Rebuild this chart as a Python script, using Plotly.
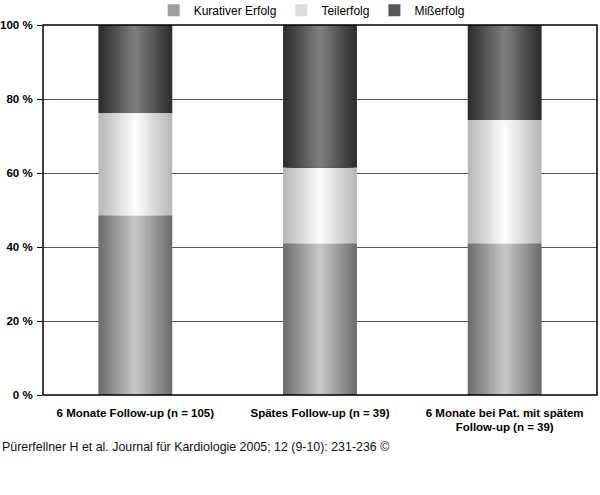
import plotly.graph_objects as go

# Anteile in Prozent je Gruppe
kategorien = ["6 Monate Follow-up (n = 105)", "Spätes Follow-up (n = 39)",
              "6 Monate bei Pat. mit spätem<br>Follow-up (n = 39)"]
kurativ = [48.6, 41.0, 41.0]
teilerfolg = [27.6, 20.5, 33.3]
misserfolg = [23.8, 38.5, 25.7]
y_ticks = [0, 20, 40, 60, 80, 100]
y_labels = ["0 %", "20 %", "40 %", "60 %", "80 %", "100 %"]

serien = [
    ("Kurativer Erfolg", kurativ, (110, 110, 110), (198, 198, 198)),
    ("Teilerfolg", teilerfolg, (184, 184, 184), (252, 252, 252)),
    ("Mißerfolg", misserfolg, (46, 46, 46), (124, 124, 124)),
]

fig = go.Figure()
base = [0, 0, 0]
n = 14
for name, werte, rand, mitte in serien:
    # zylinder-effekt: schmaler werdende balken, heller zur mitte
    for i in range(n):
        t = i / (n - 1)
        c = tuple(int(rand[k] + (mitte[k] - rand[k]) * t) for k in range(3))
        fig.add_trace(go.Bar(
            x=kategorien, y=werte, base=base,
            width=0.4 * (1 - i / n),
            marker=dict(color="rgb(%d,%d,%d)" % c, line=dict(width=0)),
            name=name, legendgroup=name,
            showlegend=(i == n // 2),
            hoverinfo="skip",
        ))
    base = [b + w for b, w in zip(base, werte)]

fig.update_layout(
    width=600, height=495,
    margin=dict(l=43, r=3, t=25, b=100, autoexpand=False),
    barmode="overlay",
    plot_bgcolor="white", paper_bgcolor="white",
    font=dict(family="Liberation Sans, Arial, sans-serif", size=12, color="black"),
    legend=dict(orientation="h", x=0.485, xanchor="center", y=1.04, yanchor="middle",
                font=dict(size=12), itemwidth=30,
                bgcolor="rgba(0,0,0,0)", traceorder="normal", tracegroupgap=0),
    xaxis=dict(showline=False, automargin=False, ticklabelstandoff=9,
               tickfont=dict(size=11.5, weight="bold"), ticks=""),
    yaxis=dict(range=[0, 100], tickvals=y_ticks, ticktext=y_labels, automargin=False,
               showline=False, showgrid=True, gridcolor="#555555", gridwidth=1,
               zeroline=False, ticklabelstandoff=2,
               ticks="outside", ticklen=5, tickcolor="black",
               tickfont=dict(size=11.5, weight="bold")),
    shapes=[dict(type="rect", xref="paper", yref="paper", x0=0, x1=1, y0=0, y1=1,
                 line=dict(color="black", width=1.5), layer="above")],
)

fig.add_annotation(
    text="Pürerfellner H et al. Journal für Kardiologie 2005; 12 (9-10): 231-236 ©",
    xref="paper", yref="paper", x=0, y=0, xanchor="left", yanchor="middle",
    xshift=-43, yshift=-52, showarrow=False, font=dict(size=12.4, color="#111111"),
)

# body-rand der seite entfernen, damit die figur bei 0,0 sitzt
fig.write_html("out.html", config={"displayModeBar": False},
               post_script="document.body.style.margin='0';")
